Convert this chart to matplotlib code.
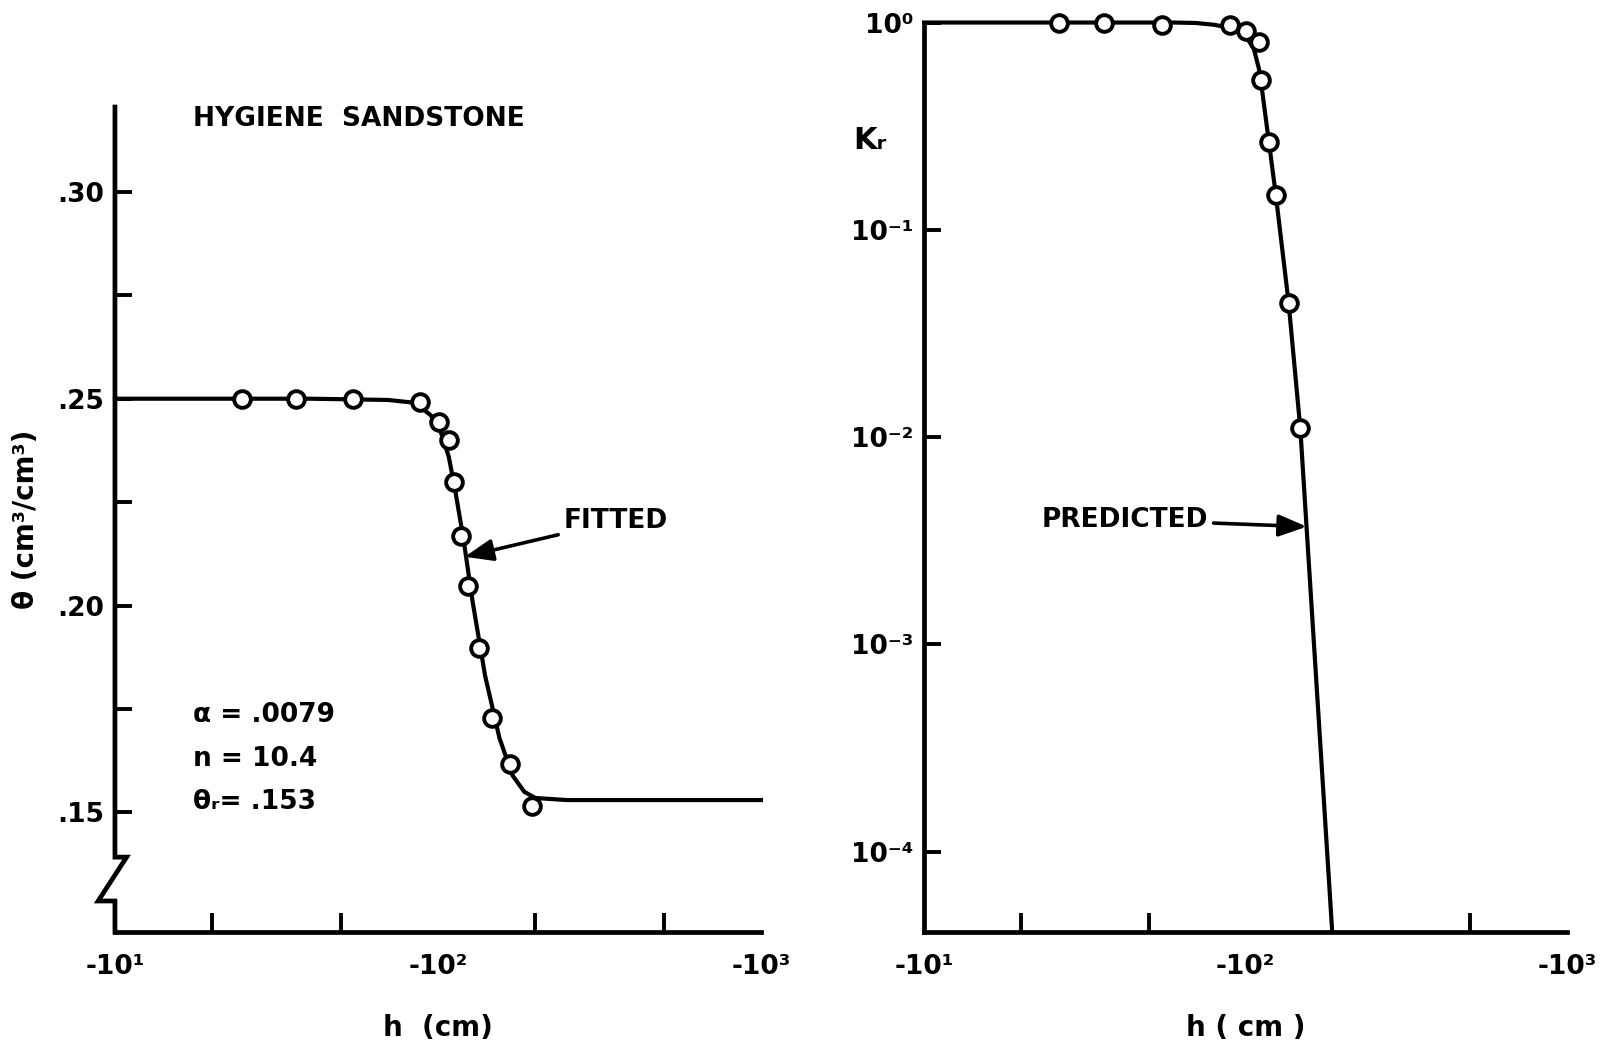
import matplotlib
matplotlib.use("Agg")
import matplotlib.pyplot as plt
from matplotlib.ticker import FixedLocator, NullLocator

plt.rcParams['font.family'] = ['Liberation Sans Narrow', 'DejaVu Sans']
plt.rcParams['font.weight'] = 'bold'
plt.rcParams['axes.labelweight'] = 'bold'

# measured points (suction head magnitude, cm)
h_obs = [24.7, 36.3, 54.6, 88.3, 101, 108, 112, 118, 124, 134, 147, 167, 195]
theta_obs = [0.250, 0.250, 0.250, 0.2493, 0.2443, 0.2399, 0.2298, 0.2167,
             0.2047, 0.1897, 0.1729, 0.1616, 0.1515]

h_kr_obs = [26.2, 36.2, 55.0, 89.5, 100, 110, 112, 118, 124, 136, 148]
kr_obs = [1.0, 1.0, 0.978, 0.97, 0.91, 0.81, 0.53, 0.266, 0.147, 0.0443, 0.0111]

# fitted retention curve
h_fit = [10, 40, 70, 85, 95, 102, 108, 113, 120, 128, 140, 155, 170, 185, 200, 250, 1000]
theta_fit = [0.250, 0.250, 0.2497, 0.249, 0.246, 0.242, 0.236, 0.228, 0.216,
             0.201, 0.183, 0.168, 0.159, 0.155, 0.1535, 0.153, 0.153]

# predicted conductivity curve
h_pred = [10, 60, 70, 80, 90, 100, 106, 110, 112, 118, 124, 136, 148, 186]
kr_pred = [1.0, 1.0, 0.995, 0.975, 0.94, 0.86, 0.75, 0.60, 0.50, 0.27, 0.15,
           0.045, 0.011, 4.1e-5]

x_major = [10, 100, 1000]
x_major_labels = ["-10¹", "-10²", "-10³"]
theta_ticks = [0.15, 0.175, 0.20, 0.225, 0.25, 0.275, 0.30]
theta_labels = [".15", "", ".20", "", ".25", "", ".30"]
kr_ticks = [1e-4, 1e-3, 1e-2, 1e-1, 1.0]
kr_labels = ["10⁻⁴", "10⁻³", "10⁻²", "10⁻¹", "10⁰"]

fig = plt.figure(figsize=(16.01, 10.43), dpi=100)
ax1 = fig.add_axes([0.0718, 0.1064, 0.4035, 0.7910])
ax2 = fig.add_axes([0.5772, 0.1064, 0.4016, 0.8720])

lw = 3.0
for ax in (ax1, ax2):
    ax.set_xscale("log")
    ax.set_xlim(10, 1000)
    ax.spines["top"].set_visible(False)
    ax.spines["right"].set_visible(False)
    ax.spines["bottom"].set_linewidth(lw + 0.4)
    ax.spines["left"].set_linewidth(lw + 0.4)
    ax.xaxis.set_major_locator(FixedLocator(x_major))
    ax.set_xticklabels(x_major_labels, fontsize=19)
    ax.tick_params(axis="x", which="major", direction="in", length=0, pad=16)
    ax.tick_params(axis="x", which="minor", direction="in", length=14, width=2.8)
    ax.set_xlabel("h  (cm)" if ax is ax1 else "h ( cm )", fontsize=20, labelpad=24)

ax1.xaxis.set_minor_locator(FixedLocator([20, 50, 100, 200, 500]))
ax2.xaxis.set_minor_locator(FixedLocator([20, 50, 500]))

# ---- left panel: water content
ax1.set_ylim(0.1211, 0.3205)
ax1.yaxis.set_major_locator(FixedLocator(theta_ticks))
ax1.set_yticklabels(theta_labels, fontsize=19)
ax1.tick_params(axis="y", direction="in", length=12, width=2.8, pad=8)
ax1.spines["left"].set_visible(False)

# y axis with a break symbol
bx = [0, 0, 0.018, -0.026, 0, 0]
by = [0.3205, 0.1392, 0.1392, 0.1286, 0.1286, 0.1211]
ax1.plot(bx, by, color="black", lw=lw + 0.4, clip_on=False,
         transform=ax1.get_yaxis_transform(), solid_joinstyle="miter")

ax1.plot(h_fit, theta_fit, color="black", lw=lw, clip_on=False)
ax1.plot(h_obs, theta_obs, "o", ms=12, mfc="white", mec="black", mew=2.8,
         clip_on=False, zorder=3)

ax1.text(17.5, 0.3175, "HYGIENE  SANDSTONE", fontsize=19, va="center")
ax1.annotate("FITTED", xy=(121, 0.2118), xytext=(245, 0.2204), fontsize=19,
             va="center",
             arrowprops=dict(arrowstyle="-|>,head_length=0.9,head_width=0.35",
                             color="black", lw=2.6, shrinkA=2, shrinkB=0))
ax1.text(17.5, 0.1735, "α = .0079", fontsize=19, va="center")
ax1.text(17.5, 0.1629, "n = 10.4", fontsize=19, va="center")
ax1.text(17.5, 0.1525, "θᵣ= .153", fontsize=19, va="center")
ax1.set_ylabel("θ (cm³/cm³)", fontsize=20, labelpad=12)

# ---- right panel: relative conductivity
ax2.set_yscale("log")
ax2.set_ylim(4.1e-5, 1.0)
ax2.yaxis.set_major_locator(FixedLocator(kr_ticks))
ax2.yaxis.set_minor_locator(NullLocator())
ax2.set_yticklabels(kr_labels, fontsize=19)
ax2.tick_params(axis="y", direction="in", length=12, width=2.8, pad=8)

ax2.plot(h_pred, kr_pred, color="black", lw=lw, clip_on=False)
ax2.plot(h_kr_obs, kr_obs, "o", ms=12, mfc="white", mec="black", mew=2.8,
         clip_on=False, zorder=3)

ax2.annotate("PREDICTED", xy=(155, 0.0037), xytext=(23.2, 0.0040), fontsize=19,
             va="center",
             arrowprops=dict(arrowstyle="-|>,head_length=0.9,head_width=0.35",
                             color="black", lw=2.6, shrinkA=2, shrinkB=0))
ax2.text(6.0, 0.27, "Kᵣ", fontsize=22, va="center", clip_on=False)

fig.savefig("out.png", dpi=100)
